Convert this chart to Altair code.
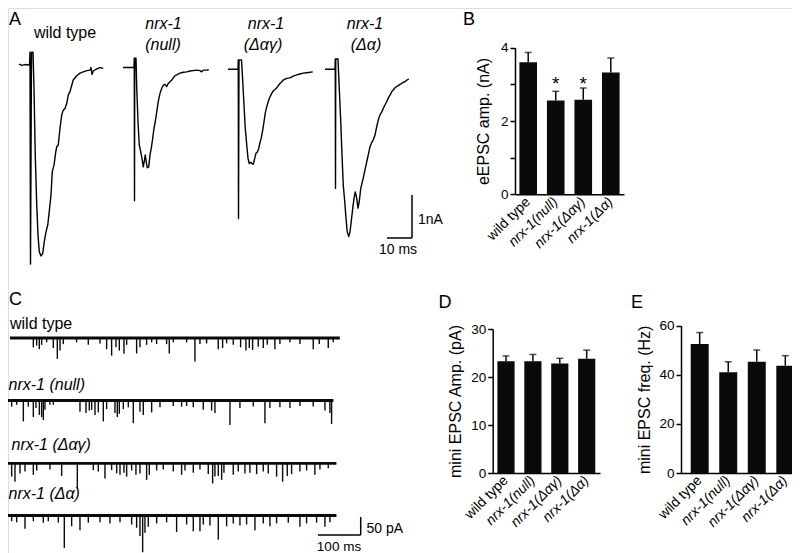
import altair as alt
import pandas as pd

FONT = "Liberation Sans"
INK = "#0a0a0a"
W, H = 784, 545

# ---------------- data ----------------
genotypes = ["wild type", "nrx-1(null)", "nrx-1(Δαγ)", "nrx-1(Δα)"]

# B: evoked EPSC amplitude (nA)
eepsc_mean = [3.60, 2.56, 2.58, 3.32]
eepsc_sem = [0.27, 0.25, 0.32, 0.40]
eepsc_star = ["", "*", "*", ""]
# D: mini EPSC amplitude (pA)
mini_amp_mean = [23.3, 23.3, 22.8, 23.8]
mini_amp_sem = [1.1, 1.4, 1.1, 1.8]
# E: mini EPSC frequency (Hz)
mini_freq_mean = [52.5, 41.0, 45.3, 43.7]
mini_freq_sem = [4.7, 4.3, 4.8, 4.1]

# A: evoked traces, time (ms) and current (nA)
wt_t = [0, 1.2, 2.4, 4.2, 4.4, 4.6, 5.0, 5.6, 6.0, 6.5, 7.1, 7.6, 8.1, 8.8, 9.5, 10.1, 10.8, 11.5,
        12.1, 12.8, 13.3, 14.0, 14.7, 15.1, 15.7, 16.4, 17.1, 17.7, 18.4, 19.1, 19.7, 20.4, 21.1,
        21.7, 23.1, 24.4, 25.7, 27.1, 28.4, 28.8, 29.2, 29.7, 31.1, 32.4, 33.7]
wt_i = [0.02, -0.01, 0.01, 0.0, 0.30, -4.63, 0.30, 0.30, -0.54, -2.09, -3.26, -3.95, -4.34, -4.44,
        -4.38, -4.11, -3.88, -3.72, -3.41, -3.02, -2.48, -2.33, -2.02, -1.90, -1.86, -1.47, -1.16,
        -1.05, -1.01, -0.89, -0.70, -0.62, -0.47, -0.35, -0.25, -0.19, -0.16, -0.13, -0.12, -0.06,
        -0.22, -0.14, -0.09, -0.06, -0.08]
null_t = [0, 4.4, 4.5, 4.6, 4.7, 5.2, 5.5, 6.0, 6.5, 7.1, 7.6, 8.1, 8.5, 8.9, 9.3, 9.7, 10.3, 10.8,
          11.3, 11.9, 12.4, 12.9, 13.5, 14.1, 14.8, 15.5, 16.1, 16.8, 17.5, 18.1, 18.8, 19.5, 20.1,
          20.8, 21.5, 22.8, 24.1, 25.5, 26.8, 28.1, 29.5, 30.8, 31.5, 32.1, 33.5, 34.3]
null_i = [0.01, 0.01, 0.23, -3.09, 0.23, 0.23, -0.47, -1.25, -1.79, -1.95, -2.10, -2.30, -2.18,
          -2.02, -2.18, -2.32, -2.30, -2.02, -1.87, -1.63, -1.40, -1.25, -1.02, -0.78, -0.59, -0.47,
          -0.40, -0.38, -0.43, -0.36, -0.32, -0.28, -0.23, -0.18, -0.16, -0.12, -0.10, -0.09, -0.07,
          -0.06, -0.05, -0.06, -0.09, -0.05, -0.05, -0.04]
dag_t = [0, 4.0, 4.1, 4.2, 4.4, 5.4, 5.9, 6.4, 6.9, 7.5, 8.0, 8.5, 9.1, 9.6, 10.1, 10.7, 11.2, 11.7,
         12.3, 12.8, 13.3, 13.9, 14.4, 14.9, 15.5, 16.1, 16.8, 17.5, 18.1, 18.8, 19.5, 20.1, 20.8,
         21.5, 22.1, 22.8, 23.5, 24.8, 26.1, 27.5, 28.8, 30.1, 31.5, 32.8, 33.9]
dag_i = [0, 0, 0.22, -3.47, 0.22, 0.22, -0.29, -0.83, -1.37, -1.76, -2.07, -2.19, -2.16, -2.19,
         -2.21, -2.07, -1.95, -1.93, -1.84, -1.70, -1.60, -1.41, -1.22, -1.02, -0.87, -0.75, -0.64,
         -0.56, -0.50, -0.47, -0.43, -0.38, -0.33, -0.29, -0.25, -0.23, -0.21, -0.20, -0.16, -0.13,
         -0.11, -0.09, -0.08, -0.07, -0.06]
da_t = [0, 4.0, 4.1, 4.2, 4.3, 5.2, 5.7, 6.3, 6.8, 7.3, 7.9, 8.4, 8.9, 9.5, 10.0, 10.5, 11.1, 11.6,
        12.1, 12.7, 13.2, 13.7, 14.3, 14.8, 15.3, 16.0, 16.7, 17.3, 18.0, 18.7, 19.3, 20.0, 20.7,
        21.3, 22.0, 22.7, 23.3, 24.0, 24.7, 25.3, 26.0, 26.7, 27.3, 28.0, 28.7, 29.3, 30.0, 30.7,
        31.3, 32.0, 32.7, 33.5]
da_i = [0, 0, 0.24, -2.77, 0.24, 0.24, -0.44, -1.22, -1.99, -2.69, -3.08, -3.47, -3.78, -3.89,
        -3.78, -3.54, -3.23, -3.00, -2.85, -3.00, -3.23, -3.08, -2.77, -2.65, -2.53, -2.34, -2.15,
        -1.99, -1.80, -1.70, -1.64, -1.53, -1.33, -1.18, -1.06, -0.99, -0.91, -0.83, -0.75, -0.67,
        -0.60, -0.52, -0.48, -0.43, -0.40, -0.38, -0.35, -0.33, -0.30, -0.29, -0.25, -0.23]

# C: spontaneous minis, event time (ms) and peak (pA); recording span (ms)
wt_span = [7, 780]
wt_ev_t = [61.7, 69.5, 75.7, 81.2, 92.9, 108.5, 117.9, 124.2, 132, 163, 190.5, 217.9, 233.5, 245.2,
           255.4, 263.2, 274.1, 280.4, 303.8, 311.6, 327.2, 339, 350.6, 374.1, 380.3, 389.7, 420.9,
           440.5, 452.2, 467.8, 495.1, 505.3, 514.7, 530.3, 547.5, 560, 567.8, 575.6, 588.8, 600.6,
           609.9, 627.9, 639.6, 663, 686.5, 717.7, 731.8, 752.9, 764.6]
wt_ev_a = [-26, -21, -31, -19, -12, -28, -58, -35, -17, -12, -19, -15, -31, -49, -26, -35, -44, -19,
           -43, -26, -19, -12, -17, -17, -43, -12, -12, -65, -17, -15, -31, -28, -15, -19, -26, -35,
           -28, -33, -24, -28, -19, -31, -17, -12, -17, -31, -17, -28, -12]
null_span = [0, 765]
null_ev_t = [10.9, 22.6, 38.3, 50, 61.7, 67.9, 75.8, 81.2, 85.1, 89, 100.7, 108.6, 171, 185.1, 192.9,
             198.4, 206.2, 214, 225.7, 233.5, 253, 258.5, 263.2, 272.6, 284.3, 296, 311.6, 319.4,
             339, 358.5, 389.7, 409.2, 421, 436.6, 460, 479.5, 487.3, 522.5, 545.9, 577.2, 604.5,
             616.2, 639.6, 663.1, 686.5, 717.7, 745.1, 756.8, 760.7]
null_ev_a = [-17, -12, -58, -17, -46, -21, -40, -46, -54, -26, -12, -12, -31, -35, -28, -26, -40,
             -33, -58, -24, -35, -46, -37, -24, -19, -63, -31, -40, -33, -19, -15, -17, -15, -19,
             -26, -28, -35, -68, -21, -17, -63, -21, -19, -21, -15, -17, -28, -35, -65]
dag_span = [0, 772]
dag_ev_t = [10.9, 18.7, 30.5, 42.2, 61.7, 69.5, 100.7, 128.1, 164.8, 202.3, 214, 229.6, 245.2, 257,
            264.8, 274.1, 280.4, 292.1, 302.2, 311.6, 327.2, 333.5, 350.7, 366.3, 389.7, 409.2,
            417.1, 436.6, 452.2, 471.7, 481.9, 487.3, 495.2, 503, 508.4, 530.3, 542, 557.6, 569.3,
            585, 600.6, 612.3, 631.8, 645.9, 656.8, 667, 686.5, 702.1, 721.6, 733.4, 752.9]
dag_ev_a = [-37, -51, -28, -23, -32, -20, -17, -35, -70, -19, -23, -42, -19, -28, -32, -26, -37, -20,
            -32, -28, -46, -32, -20, -17, -23, -32, -20, -26, -17, -30, -56, -37, -35, -46, -26,
            -32, -23, -28, -26, -30, -23, -28, -37, -51, -35, -30, -23, -20, -32, -17, -14]
da_span = [0, 772]
da_ev_t = [10.9, 22.6, 42.2, 61.7, 85.1, 96.8, 120.3, 134.3, 151.5, 171, 190.6, 217.9, 241.3, 264.8,
           292.1, 303.8, 311.6, 317.9, 323.3, 331.1, 350.7, 374.1, 397.5, 421, 436.6, 452.2, 460,
           475.6, 495.2, 514.7, 530.3, 545.9, 561.5, 581.1, 600.6, 616.2, 631.8, 659.2, 686.5,
           702.1, 725.5, 745.1, 756.8]
da_ev_a = [-16, -19, -37, -16, -20, -16, -20, -90, -30, -41, -20, -19, -22, -19, -25, -34, -57, -102,
           -48, -31, -22, -19, -46, -25, -44, -44, -25, -28, -67, -30, -22, -28, -25, -41, -22, -30,
           -22, -20, -31, -22, -20, -31, -19]

# scale bars
a_bar_ms, a_bar_na = 10, 1
c_bar_ms, c_bar_pa = 100, 50


# ---------------- helpers ----------------
def lin(domain, rng):
    return alt.Scale(domain=domain, range=rng, nice=False, zero=False)


def label(text, x, y, size=16, style="normal", align="left", baseline="middle"):
    return alt.Chart(pd.DataFrame({"label": [text]})).mark_text(
        font=FONT, fontSize=size, fontStyle=style, align=align, baseline=baseline, color="black"
    ).encode(x=alt.value(x), y=alt.value(y), text="label:N")


A_MS = 2.5   # px per ms (panel A)
A_NA = 43.0  # px per nA (panel A)


def evoked_trace(t, i, x_left, y_base):
    df = pd.DataFrame({"t": t, "i": i})
    df["n"] = range(len(df))
    return alt.Chart(df).mark_line(color="black", strokeWidth=1.4, strokeJoin="round").encode(
        x=alt.X("t:Q", scale=lin([0, 34], [x_left, x_left + 34 * A_MS]), axis=None),
        y=alt.Y("i:Q", scale=lin([-5, 1], [y_base + 5 * A_NA, y_base - 1 * A_NA]), axis=None),
        order="n:Q",
    )


def scale_bar(len_x, len_y, x_rng, y_rng, width=1.5):
    df = pd.DataFrame({"x0": [0, len_x], "x1": [len_x, len_x], "y0": [0, 0], "y1": [0, len_y]})
    return alt.Chart(df).mark_rule(color="black", strokeWidth=width).encode(
        x=alt.X("x0:Q", scale=lin([0, len_x], x_rng), axis=None),
        x2="x1:Q",
        y=alt.Y("y0:Q", scale=lin([0, len_y], y_rng), axis=None),
        y2="y1:Q",
    )


C_MS = 0.4267  # px per ms (panel C)
C_PA = 0.36    # px per pA (panel C)


def mini_trace(span, ev_t, ev_a, y_base):
    xs = lin([0, 800], [-1, -1 + 800 * C_MS])
    ys = lin([-110, 20], [y_base + 110 * C_PA, y_base - 20 * C_PA])
    base = alt.Chart(pd.DataFrame({"t0": [span[0]], "t1": [span[1]]})).mark_rule(
        color=INK, strokeWidth=2.8
    ).encode(
        x=alt.X("t0:Q", scale=xs, axis=None),
        x2="t1:Q",
        y=alt.Y(datum=0, scale=ys, axis=None),
    )
    ev = alt.Chart(pd.DataFrame({"t": ev_t, "a": ev_a})).mark_rule(
        color=INK, strokeWidth=1.4
    ).encode(
        x=alt.X("t:Q", scale=xs, axis=None),
        y=alt.Y("a:Q", scale=ys, axis=None),
        y2=alt.datum(0),
    )
    return alt.layer(base, ev)


ITALIC_UNLESS_WT = {"condition": {"test": "datum.value === 'wild type'", "value": "normal"},
                    "value": "italic"}


def bar_panel(means, sems, title, x_rng, pad_inner, pad_outer, y_dom, y_rng, y_ticks,
              x_off, y_off, title_pad, label_expr=None, stars=None, star_y=None):
    df = pd.DataFrame({"g": genotypes, "m": means, "s": sems})
    df["top"] = df["m"] + df["s"]
    xsc = alt.Scale(domain=genotypes, range=x_rng, paddingInner=pad_inner, paddingOuter=pad_outer)
    ysc = lin(y_dom, y_rng)
    xax = alt.Axis(title=None, orient="bottom", offset=x_off, ticks=False, labelAngle=-45,
                   labelAlign="right", labelBaseline="middle", labelPadding=5, labelFontSize=14,
                   labelFontStyle=ITALIC_UNLESS_WT, domainWidth=1.5, domainColor="black",
                   labelColor="black", labelFont=FONT)
    yargs = dict(title=title, orient="left", offset=y_off, values=y_ticks, grid=False, tickSize=5,
                 tickWidth=1.5, domainWidth=1.5, labelFontSize=13.5, labelPadding=2,
                 titleFontSize=16, titleFontWeight="normal", titlePadding=title_pad,
                 domainColor="black", tickColor="black", labelColor="black", titleColor="black",
                 labelFont=FONT, titleFont=FONT)
    if label_expr:
        yargs["labelExpr"] = label_expr
    yax = alt.Axis(**yargs)
    X = alt.X("g:N", scale=xsc, axis=xax, sort=genotypes)
    base = alt.Chart(df)
    bars = base.mark_bar(color=INK).encode(x=X, y=alt.Y("m:Q", scale=ysc, axis=yax))
    err = base.mark_rule(color=INK, strokeWidth=1.5).encode(
        x=X, y=alt.Y("m:Q", scale=ysc, axis=yax), y2="top:Q")
    cap = base.mark_tick(color=INK, thickness=1.5, size=7).encode(
        x=X, y=alt.Y("top:Q", scale=ysc, axis=yax))
    layers = [bars, err, cap]
    if stars is not None:
        sdf = pd.DataFrame({"g": genotypes, "star": stars})
        layers.append(alt.Chart(sdf).mark_text(font=FONT, fontSize=19, color="black",
                                               baseline="middle").encode(
            x=X, y=alt.Y(datum=star_y, scale=ysc, axis=yax), text="star:N"))
    return alt.layer(*layers)


# ---------------- panels ----------------
panelA = [
    evoked_trace(wt_t, wt_i, 11, 57),
    evoked_trace(null_t, null_i, 115, 60),
    evoked_trace(dag_t, dag_i, 220, 61.3),
    evoked_trace(da_t, da_i, 317, 61.3),
    scale_bar(a_bar_ms, a_bar_na, [379, 404], [230, 187]),
]

panelB = bar_panel(eepsc_mean, eepsc_sem, "eEPSC amp. (nA)", [507, 616], 0.36, 0.16,
                   [0, 4], [186.3, 39.7], [0, 1, 2, 3, 4], x_off=186.3 - H, y_off=-507,
                   title_pad=9, label_expr="datum.value % 2 === 0 ? datum.label : ''",
                   stars=eepsc_star, star_y=3.0)

panelC = [
    mini_trace(wt_span, wt_ev_t, wt_ev_a, 330),
    mini_trace(null_span, null_ev_t, null_ev_a, 392.5),
    mini_trace(dag_span, dag_ev_t, dag_ev_a, 455.3),
    mini_trace(da_span, da_ev_t, da_ev_a, 507.5),
    scale_bar(c_bar_ms, c_bar_pa, [310, 352.7], [527, 527 - c_bar_pa * C_PA]),
]

panelD = bar_panel(mini_amp_mean, mini_amp_sem, "mini EPSC Amp. (pA)", [484.7, 592], 0.36, 0.175,
                   [0, 30], [465, 321], [0, 10, 20, 30], x_off=465 - H, y_off=-484.7,
                   title_pad=7)

panelE = bar_panel(mini_freq_mean, mini_freq_sem, "mini EPSC freq. (Hz)", [673, 796], 0.37, 0.34,
                   [0, 60], [465, 317.7], [0, 20, 40, 60], x_off=465 - H, y_off=-673,
                   title_pad=6)

texts = [
    label("A", 1, 3, size=18, baseline="top"),
    label("B", 461, 3, size=18, align="center", baseline="top"),
    label("C", 1, 292, size=18),
    label("D", 437, 295, size=18, align="center"),
    label("E", 629, 295, size=18, align="center"),
    label("wild type", 57, 25, size=16, align="center"),
    label("nrx-1", 155.5, 16, size=16, style="italic", align="center"),
    label("(null)", 155, 37, size=16, style="italic", align="center"),
    label("nrx-1", 258, 16, size=16, style="italic", align="center"),
    label("(Δαγ)", 255, 37, size=16, style="italic", align="center"),
    label("nrx-1", 357, 16, size=16, style="italic", align="center"),
    label("(Δα)", 358, 37, size=16, style="italic", align="center"),
    label("1nA", 410, 212, size=14),
    label("10 ms", 390, 242, size=14, align="center"),
    label("wild type", 2, 316, size=16),
    label("nrx-1 (null)", 0.5, 377, size=16, style="italic"),
    label("nrx-1 (Δαγ)", 3.5, 437, size=16, style="italic"),
    label("nrx-1 (Δα)", 0.5, 485.5, size=16, style="italic"),
    label("50 pA", 358.5, 521, size=14),
    label("100 ms", 331, 538.5, size=13.5, align="center"),
]

chart = alt.layer(
    *panelA, panelB, *panelC, panelD, panelE, *texts
).resolve_scale(
    x="independent", y="independent"
).resolve_axis(
    x="independent", y="independent"
).properties(
    width=W, height=H, padding=0, autosize=alt.AutoSizeParams(type="none"),
    background="white",
).configure_view(stroke=None).configure(font=FONT)

chart.save("out.html", embed_options={"renderer": "svg", "actions": False})
